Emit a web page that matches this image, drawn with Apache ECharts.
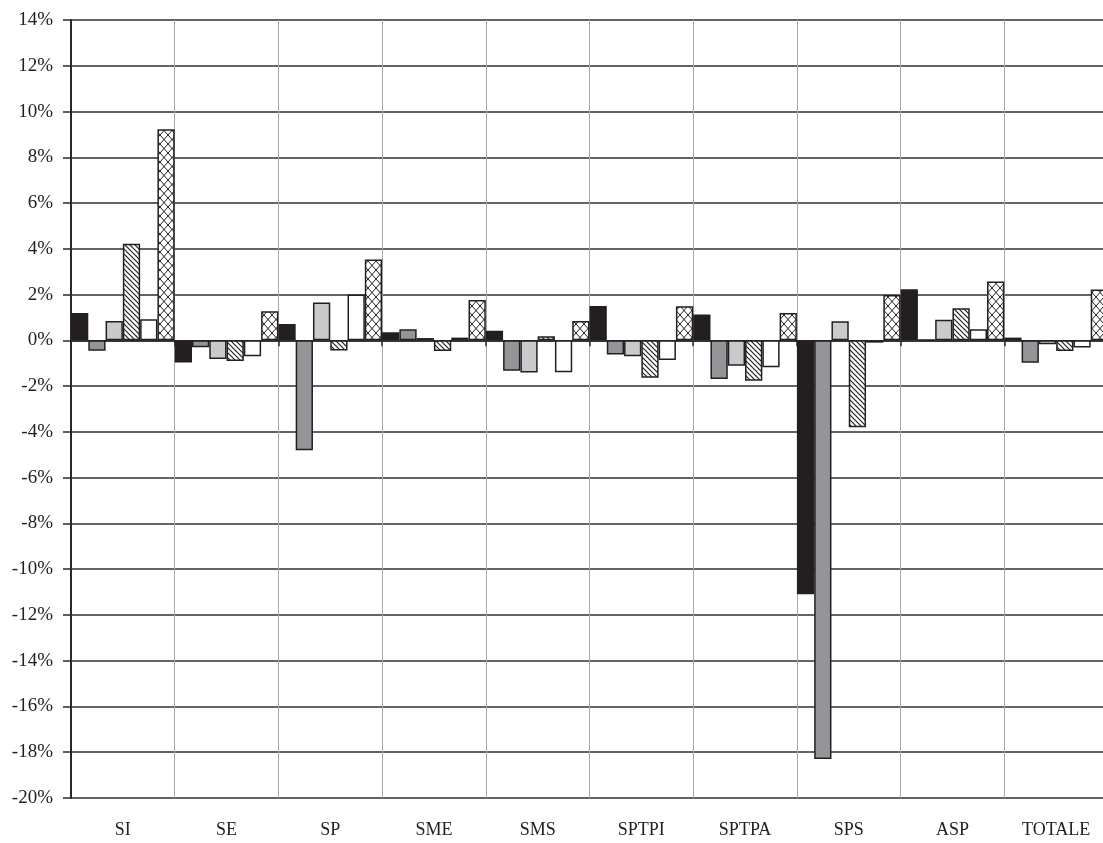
<!DOCTYPE html>
<html>
<head>
<meta charset="utf-8">
<script src="https://cdn.jsdelivr.net/npm/echarts@6/dist/echarts.min.js"></script>
<style>
html, body { margin: 0; padding: 0; background: #fff; overflow: hidden; }
#wrap { width: 1103px; height: 843px; overflow: hidden; }
#chart { width: 1108px; height: 843px; }
</style>
</head>
<body>
<div id="wrap"><div id="chart"></div></div>
<script>
var categories = ['SI', 'SE', 'SP', 'SME', 'SMS', 'SPTPI', 'SPTPA', 'SPS', 'ASP', 'TOTALE']

// values in %
var serieNera = [1.2, -0.97, 0.72, 0.35, 0.42, 1.5, 1.13, -11.1, 2.23, 0.12]
var serieGrigioScuro = [-0.45, -0.3, -4.8, 0.48, -1.33, -0.62, -1.69, -18.3, 0.02, -0.98]
var serieGrigioChiaro = [0.85, -0.82, 1.65, 0.1, -1.41, -0.69, -1.11, 0.84, 0.9, -0.17]
var serieTratteggio = [4.22, -0.9, -0.44, -0.47, 0.18, -1.63, -1.76, -3.8, 1.4, -0.46]
var serieBianca = [0.92, -0.7, 2.0, 0.12, -1.39, -0.86, -1.18, -0.1, 0.49, -0.31]
var serieQuadretti = [9.23, 1.27, 3.53, 1.76, 0.85, 1.49, 1.19, 1.98, 2.57, 2.22]

var yTicks = { min: -20, max: 14, step: 2 }

function hatchPattern() {
	var c = document.createElement('canvas')
	c.width = 5
	c.height = 5
	var ctx = c.getContext('2d')
	ctx.fillStyle = '#fff'
	ctx.fillRect(0, 0, 5, 5)
	ctx.strokeStyle = '#222'
	ctx.lineWidth = 1.2
	ctx.beginPath()
	ctx.moveTo(-1, -1); ctx.lineTo(6, 6)
	ctx.moveTo(-1, 4); ctx.lineTo(1, 6)
	ctx.moveTo(4, -1); ctx.lineTo(6, 1)
	ctx.stroke()
	return c
}

function crossPattern() {
	var c = document.createElement('canvas')
	c.width = 8
	c.height = 9
	var ctx = c.getContext('2d')
	ctx.fillStyle = '#fff'
	ctx.fillRect(0, 0, 8, 9)
	ctx.strokeStyle = '#222'
	ctx.lineWidth = 1
	ctx.beginPath()
	ctx.moveTo(0, 0); ctx.lineTo(8, 9)
	ctx.moveTo(8, 0); ctx.lineTo(0, 9)
	ctx.stroke()
	return c
}

var font = 'Liberation Serif'

function barSeries(name, data, fill) {
	return {
		name: name,
		type: 'bar',
		xAxisIndex: 0,
		data: data,
		barGap: '0%',
		barCategoryGap: '0%',
		itemStyle: {
			color: fill,
			borderColor: '#231f20',
			borderWidth: 1.5
		},
		emphasis: { disabled: true }
	}
}

var myChart = echarts.init(document.getElementById('chart'))

var option = {
	animation: false,
	backgroundColor: '#fff',
	grid: { left: 71, right: 0, top: 20, bottom: 45 },
	xAxis: [
		{
			type: 'category',
			data: categories,
			position: 'bottom',
			axisLine: { show: false, onZero: false },
			axisTick: { show: false },
			axisLabel: { margin: 23, color: '#222', fontFamily: font, fontSize: 18 },
			splitLine: { show: true, interval: 0, lineStyle: { color: '#a7a7a7', width: 1 } }
		},
		{
			type: 'category',
			data: categories,
			position: 'top',
			axisLine: { show: true, onZero: true, lineStyle: { color: '#2a2a2a', width: 1.5 } },
			axisTick: { show: true, inside: true, length: 6, interval: 0, lineStyle: { color: '#2a2a2a', width: 1.5 } },
			axisLabel: { show: false },
			splitLine: { show: false }
		}
	],
	yAxis: {
		type: 'value',
		min: yTicks.min,
		max: yTicks.max,
		interval: yTicks.step,
		axisLine: { show: true, onZero: false, lineStyle: { color: '#2a2a2a', width: 2 } },
		axisTick: { show: true, length: 8, lineStyle: { color: '#2a2a2a', width: 1.5 } },
		axisLabel: { formatter: '{value}%', margin: 18, color: '#222', fontFamily: font, fontSize: 19 },
		splitLine: { show: true, lineStyle: { color: '#2f2f2f', width: 1.5 } }
	},
	series: [
		barSeries('serie 1', serieNera, '#231f20'),
		barSeries('serie 2', serieGrigioScuro, '#939598'),
		barSeries('serie 3', serieGrigioChiaro, '#c9cacc'),
		barSeries('serie 4', serieTratteggio, { image: hatchPattern(), repeat: 'repeat' }),
		barSeries('serie 5', serieBianca, '#ffffff'),
		barSeries('serie 6', serieQuadretti, { image: crossPattern(), repeat: 'repeat' })
	]
}

myChart.setOption(option, true)
</script>
</body>
</html>
